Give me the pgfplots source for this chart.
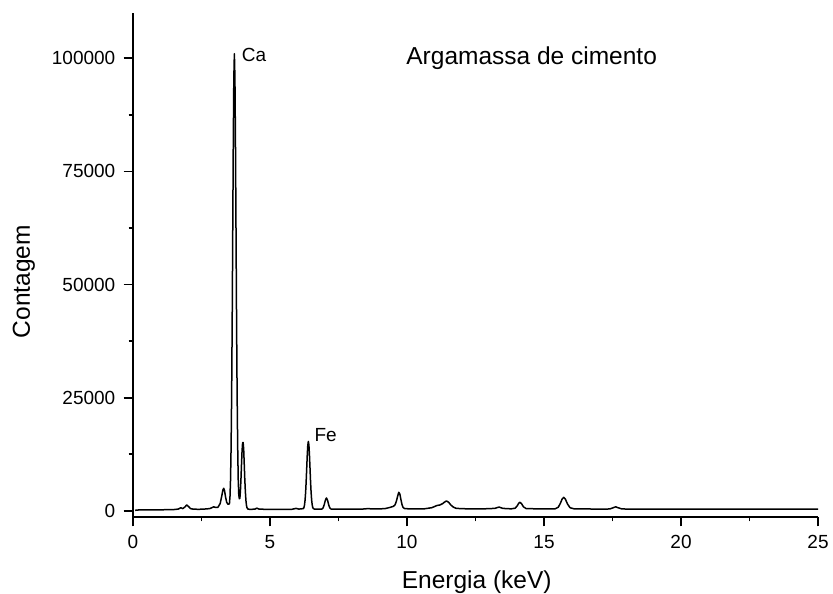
\documentclass[border=0pt]{standalone}
\usepackage{fontspec}
\setmainfont{Liberation Sans}
\usepackage{pgfplots}
\pgfplotsset{compat=1.18}
\begin{document}
\begin{tikzpicture}
\path[use as bounding box] (0,0) rectangle (833pt,594pt);
\begin{axis}[
  at={(133pt,77pt)}, anchor=south west,
  scale only axis, width=685pt, height=504pt,
  xmin=0, xmax=25, ymin=-1350, ymax=110000,
  axis lines=left, axis line style={-, line width=1.7pt},
  tick align=outside,
  major tick length=9.5pt, minor tick length=4.5pt,
  every tick/.style={black, line width=1.7pt},
  xtick={0,5,10,15,20,25}, xticklabels={0,5,10,15,20,25}, minor x tick num=1,
  ytick={0,25000,50000,75000,100000}, yticklabels={0,25000,50000,75000,100000}, minor y tick num=1,
  scaled y ticks=false,
  tick label style={font=\fontsize{19}{22}\selectfont, inner sep=0pt},
  yticklabel style={anchor=east, xshift=-8pt},
  xticklabel style={anchor=north, yshift=-9pt},
  label style={font=\fontsize{24.5}{28}\selectfont, inner sep=0pt},
  xlabel={Energia (keV)},
  ylabel={Contagem},
  xlabel style={at={(axis description cs:0.5018,-0.1409)}, anchor=base},
  ylabel style={at={(axis description cs:-0.1504,0.467)}, anchor=base},
  clip=false,
]
\addplot[black, line width=1.5pt, line join=round] coordinates {
(0.08,100) (0.1,150) (0.3,250) (0.5,200) (0.7,220) (0.9,230) (1.1,250) (1.3,260)
(1.5,300) (1.65,400) (1.75,700) (1.82,500) (1.90,900) (1.96,1300) (2.02,1000)
(2.10,500) (2.2,380) (2.4,350) (2.6,400) (2.8,500) (2.95,900) (3.02,750) (3.10,800)
(3.18,1600) (3.24,3300) (3.28,4600) (3.31,5000) (3.34,4500) (3.38,3000) (3.42,1900)
(3.46,1500) (3.50,1500) (3.52,1600) (3.54,3200) (3.56,6900) (3.58,14000) (3.60,25500)
(3.62,41800) (3.64,61500) (3.66,81200) (3.68,95600) (3.70,101000) (3.72,95600)
(3.74,81200) (3.76,61600) (3.78,41900) (3.80,25800) (3.82,14500) (3.84,7000)
(3.86,3600) (3.88,2700) (3.90,2750) (3.92,4300) (3.94,7000) (3.96,10250)
(3.98,13200) (4.00,15050) (4.02,15100) (4.04,13600) (4.06,10300) (4.08,7000)
(4.10,4400) (4.12,2400) (4.14,1250) (4.16,700) (4.20,380) (4.30,330) (4.45,400)
(4.52,600) (4.60,400) (4.8,350) (5.0,330) (5.4,330) (5.8,350) (5.95,550) (6.05,400)
(6.15,450) (6.22,520) (6.24,770) (6.26,1340) (6.28,2380) (6.30,4090) (6.32,6520)
(6.34,9450) (6.36,12350) (6.38,14540) (6.40,15350) (6.42,14540) (6.44,12350)
(6.46,9450) (6.48,6520) (6.50,4090) (6.52,2380) (6.54,1340) (6.56,770) (6.58,520)
(6.62,400) (6.80,370) (6.90,420) (6.94,690) (6.98,1380) (7.02,2350) (7.06,2850)
(7.10,2350) (7.14,1380) (7.18,690) (7.22,420) (7.4,380) (7.8,380) (8.2,400)
(8.45,420) (8.58,520) (8.7,430) (8.9,420) (9.2,500) (9.4,800) (9.5,1000) (9.56,1300)
(9.58,1600) (9.62,2300) (9.66,3300) (9.70,4100) (9.74,3700) (9.78,2450) (9.82,1340)
(9.86,720) (9.92,500) (10.2,420) (10.6,430) (10.9,700) (11.1,1200) (11.2,1300)
(11.3,1600) (11.36,1900) (11.44,2200) (11.52,1900) (11.6,1300) (11.7,800) (11.8,550)
(12.2,450) (12.8,450) (13.2,550) (13.36,850) (13.5,550) (13.8,450) (13.95,600)
(14.02,1100) (14.08,1700) (14.12,1900) (14.18,1600) (14.25,900) (14.35,500)
(14.8,450) (15.4,450) (15.52,800) (15.6,1700) (15.66,2600) (15.72,3000) (15.78,2600)
(15.86,1500) (15.95,700) (16.1,450) (17.0,400) (17.4,420) (17.55,750) (17.62,900)
(17.70,700) (17.85,420) (18.5,400) (20,390) (22,390) (24,380) (25,380)
};
\node[anchor=base west, inner sep=0pt, font=\fontsize{19}{22}\selectfont] at (axis cs:3.965,99250) {Ca};
\node[anchor=base west, inner sep=0pt, font=\fontsize{19}{22}\selectfont] at (axis cs:6.617,15310) {Fe};
\node[anchor=base, inner sep=0pt, font=\fontsize{24.5}{28}\selectfont] at (axis cs:14.55,98600) {Argamassa de cimento};
\end{axis}
\end{tikzpicture}
\end{document}
